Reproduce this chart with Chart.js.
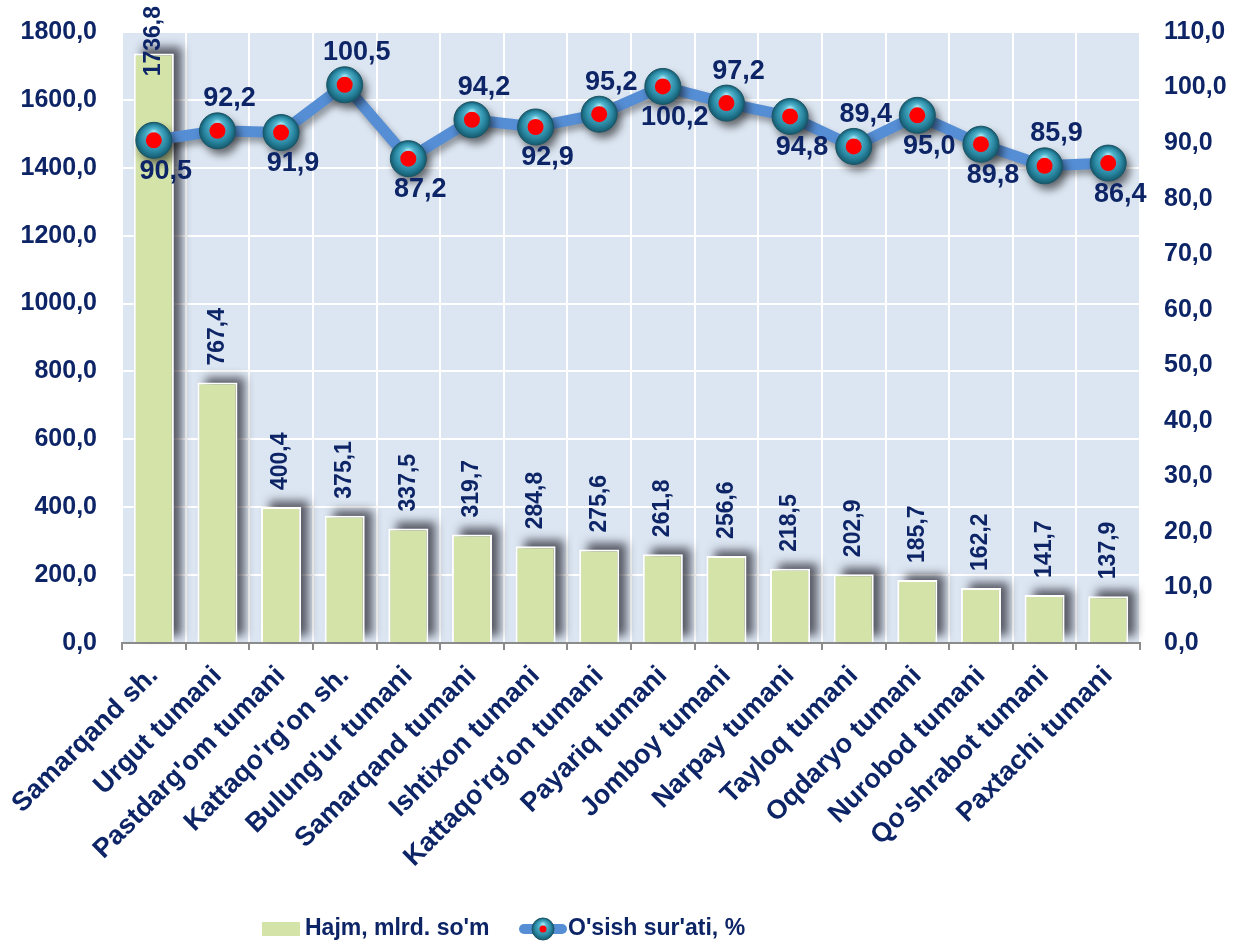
<!DOCTYPE html>
<html>
<head>
<meta charset="utf-8">
<script src="https://cdn.jsdelivr.net/npm/chart.js@4.4.1/dist/chart.umd.min.js"></script>
<style>
  html, body { margin: 0; padding: 0; background: #fff; }
  #wrap { width: 1243px; height: 946px; }
</style>
</head>
<body>
<div id="wrap"><canvas id="chart" width="1243" height="946"></canvas></div>
<script>
const districts = [
  "Samarqand sh.", "Urgut tumani", "Pastdarg'om tumani", "Kattaqo'rg'on sh.",
  "Bulung'ur tumani", "Samarqand tumani", "Ishtixon tumani", "Kattaqo'rg'on tumani",
  "Payariq tumani", "Jomboy tumani", "Narpay tumani", "Tayloq tumani",
  "Oqdaryo tumani", "Nurobod tumani", "Qo'shrabot tumani", "Paxtachi tumani"
];
const volume = [1736.8, 767.4, 400.4, 375.1, 337.5, 319.7, 284.8, 275.6, 261.8, 256.6, 218.5, 202.9, 185.7, 162.2, 141.7, 137.9];
const growth = [90.5, 92.2, 91.9, 100.5, 87.2, 94.2, 92.9, 95.2, 100.2, 97.2, 94.8, 89.4, 95.0, 89.8, 85.9, 86.4];
const volumeAxis = { min: 0, max: 1800, step: 200 };
const growthAxis = { min: 0, max: 110, step: 10 };
const seriesNames = ["Hajm, mlrd. so'm", "O'sish sur'ati, %"];

// where each growth label sits relative to its marker
const growthLabelSide = ["below", "above", "below", "above", "below", "above", "below", "above",
  "below", "above", "below", "above", "below", "below", "above", "below"];

const navy = "#0d2566";
const barColor = "#d4e3a8";
const lineColor = "#558ed5";
const fontFamily = "'Liberation Sans', Arial, sans-serif";
const fmt = (v) => Number(v).toFixed(1).replace(".", ",");

function drawSphere(ctx, x, y, r, dot, withShadow) {
  ctx.save();
  if (withShadow) {
    ctx.shadowColor = "rgba(0,0,0,0.55)";
    ctx.shadowBlur = 8;
    ctx.shadowOffsetX = 4;
    ctx.shadowOffsetY = 6;
  }
  const g = ctx.createRadialGradient(x, y - r * 0.45, r * 0.05, x, y, r);
  g.addColorStop(0, "#a4e6f4");
  g.addColorStop(0.3, "#52b4cd");
  g.addColorStop(0.72, "#2a88a3");
  g.addColorStop(1, "#145a6e");
  ctx.beginPath();
  ctx.arc(x, y, r, 0, Math.PI * 2);
  ctx.fillStyle = g;
  ctx.fill();
  ctx.restore();
  ctx.save();
  ctx.beginPath();
  ctx.arc(x, y, r, 0, Math.PI * 2);
  ctx.strokeStyle = "#1b5566";
  ctx.lineWidth = 1;
  ctx.stroke();
  ctx.beginPath();
  ctx.arc(x, y, dot, 0, Math.PI * 2);
  ctx.fillStyle = "#ff0000";
  ctx.fill();
  ctx.restore();
}

const decor = {
  id: "decor",
  beforeDraw(chart) {
    const { ctx, chartArea: a } = chart;
    ctx.save();
    ctx.fillStyle = "#dce6f2";
    ctx.fillRect(a.left, a.top, a.right - a.left, a.bottom - a.top);
    ctx.restore();
  },
  beforeDatasetDraw(chart, args) {
    const ctx = chart.ctx;
    if (args.index === 0) {
      // bar shadows only (shape drawn off-canvas)
      ctx.save();
      ctx.shadowColor = "rgba(30,30,40,0.7)";
      ctx.shadowBlur = 9;
      ctx.shadowOffsetX = 8 + 5000;
      ctx.shadowOffsetY = -6;
      ctx.fillStyle = "#000";
      args.meta.data.forEach((bar) => {
        const p = bar.getProps(["x", "y", "base", "width"], true);
        ctx.fillRect(p.x - p.width / 2 - 5000, p.y, p.width, p.base - p.y);
      });
      ctx.restore();
    } else if (args.index === 1) {
      ctx.save();
      ctx.shadowColor = "rgba(0,0,0,0.35)";
      ctx.shadowBlur = 6;
      ctx.shadowOffsetX = 3;
      ctx.shadowOffsetY = 5;
    }
  },
  afterDatasetDraw(chart, args) {
    if (args.index === 1) chart.ctx.restore();
  },
  afterDatasetsDraw(chart) {
    const ctx = chart.ctx;
    const lineMeta = chart.getDatasetMeta(1);
    lineMeta.data.forEach((pt) => drawSphere(ctx, pt.x, pt.y, 18, 8, true));

    ctx.save();
    ctx.fillStyle = navy;
    ctx.font = "bold 27px " + fontFamily;
    ctx.textAlign = "center";
    ctx.textBaseline = "middle";
    lineMeta.data.forEach((pt, i) => {
      const dy = growthLabelSide[i] === "above" ? -32 : 31;
      ctx.fillText(fmt(growth[i]), pt.x + 12, pt.y + dy);
    });

    const barMeta = chart.getDatasetMeta(0);
    ctx.font = "bold 23px " + fontFamily;
    ctx.textAlign = "left";
    barMeta.data.forEach((bar, i) => {
      const txt = fmt(volume[i]);
      const w = ctx.measureText(txt).width;
      let start = bar.y - 17;
      if (start - w < 6) start = 6 + w;
      ctx.save();
      ctx.translate(bar.x, start);
      ctx.rotate(-Math.PI / 2);
      ctx.fillText(txt, 0, 0);
      ctx.restore();
    });
    ctx.restore();
  },
  afterDraw(chart) {
    const ctx = chart.ctx;
    const cy = 929;
    ctx.save();
    ctx.fillStyle = barColor;
    ctx.fillRect(262, cy - 7, 38, 14);
    ctx.fillStyle = navy;
    ctx.font = "bold 23px " + fontFamily;
    ctx.textAlign = "left";
    ctx.textBaseline = "middle";
    ctx.fillText(seriesNames[0], 305, cy);

    ctx.strokeStyle = lineColor;
    ctx.lineWidth = 10;
    ctx.lineCap = "round";
    ctx.beginPath();
    ctx.moveTo(524, cy);
    ctx.lineTo(562, cy);
    ctx.stroke();
    drawSphere(ctx, 543, cy, 11, 3.5, false);
    ctx.fillStyle = navy;
    ctx.fillText(seriesNames[1], 568, cy);
    ctx.restore();
  }
};

const fitSide = (width) => (s) => {
  s.width = width;
  s.paddingTop = 0;
  s.paddingBottom = 0;
};

new Chart(document.getElementById("chart"), {
  data: {
    labels: districts,
    datasets: [
      {
        type: "bar",
        label: seriesNames[0],
        data: volume,
        yAxisID: "y",
        backgroundColor: barColor,
        borderColor: "#ffffff",
        borderWidth: 2,
        barPercentage: 0.63,
        categoryPercentage: 1,
        order: 2
      },
      {
        type: "line",
        label: seriesNames[1],
        data: growth,
        yAxisID: "y1",
        borderColor: lineColor,
        borderWidth: 11,
        tension: 0,
        pointRadius: 0,
        pointHoverRadius: 0,
        order: 1
      }
    ]
  },
  options: {
    responsive: false,
    animation: false,
    events: [],
    layout: { padding: { top: 32, left: 0, right: 0, bottom: 0 } },
    plugins: {
      legend: { display: false },
      tooltip: { enabled: false }
    },
    scales: {
      x: {
        offset: true,
        grid: { color: "#ffffff", lineWidth: 2, offset: true, tickColor: "#8c8c8c", tickLength: 7 },
        border: { color: "#8c8c8c", width: 2 },
        ticks: {
          color: navy,
          font: { family: fontFamily, size: 27, weight: "bold" },
          minRotation: 45,
          maxRotation: 45,
          autoSkip: false,
          padding: 10
        },
        afterFit: (s) => {
          s.height = 303;
          s.paddingLeft = 0;
          s.paddingRight = 0;
        }
      },
      y: {
        position: "left",
        min: volumeAxis.min,
        max: volumeAxis.max,
        grid: { color: "#ffffff", lineWidth: 2, drawTicks: false },
        border: { display: false },
        ticks: {
          stepSize: volumeAxis.step,
          color: navy,
          padding: 25,
          font: { family: fontFamily, size: 25, weight: "bold" },
          callback: (v) => fmt(v)
        },
        afterFit: fitSide(122)
      },
      y1: {
        position: "right",
        min: growthAxis.min,
        max: growthAxis.max,
        grid: { display: false, drawTicks: false },
        border: { display: false },
        ticks: {
          stepSize: growthAxis.step,
          color: navy,
          padding: 24,
          font: { family: fontFamily, size: 25, weight: "bold" },
          callback: (v) => fmt(v)
        },
        afterFit: fitSide(103)
      }
    }
  },
  plugins: [decor]
});
</script>
</body>
</html>
